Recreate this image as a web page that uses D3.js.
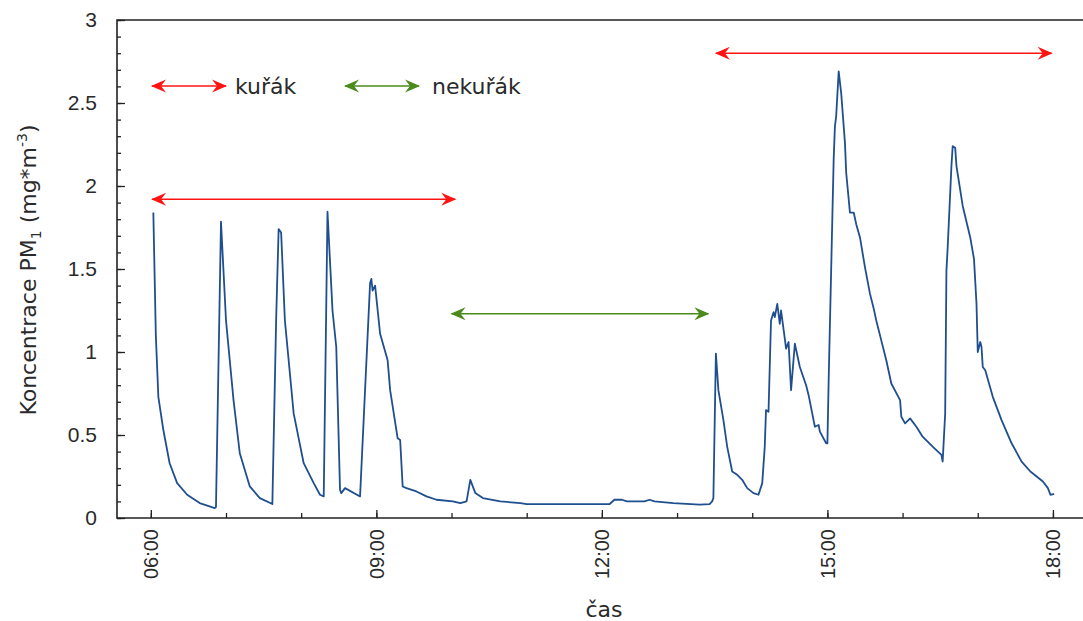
<!DOCTYPE html>
<html>
<head>
<meta charset="utf-8">
<script src="https://cdn.jsdelivr.net/npm/d3@7"></script>
<style>
body { margin: 0; background: #fff; }
svg { display: block; font-family: "DejaVu Sans", Verdana, sans-serif; }
</style>
</head>
<body>
<script>
// PM1 koncentrace - cas a hodnoty
const times = ["06:02","06:04","06:06","06:10","06:15","06:21","06:29","06:39","06:51","06:52",
  "06:56","07:00","07:06","07:11","07:19","07:27","07:37","07:40","07:42","07:44",
  "07:47","07:54","08:02","08:10","08:15","08:18","08:21","08:25","08:28","08:31",
  "08:32","08:35","08:47","08:55","08:56","08:57","08:59","09:03","09:09","09:11",
  "09:17","09:19","09:21","09:24","09:32","09:40","09:48","10:01","10:07","10:12",
  "10:15","10:19","10:25","10:39","10:55","11:00","12:06","12:10","12:16","12:20",
  "12:34","12:38","12:42","12:57","13:18","13:26","13:28","13:29","13:31","13:33",
  "13:37","13:40","13:44","13:48","13:52","13:56","14:01","14:05","14:08","14:10",
  "14:11","14:13","14:15","14:17","14:18","14:20","14:22","14:23","14:26","14:27",
  "14:29","14:31","14:34","14:38","14:43","14:45","14:50","14:53","14:54","14:59",
  "15:00","15:01","15:05","15:06","15:07","15:09","15:11","15:14","15:15","15:18",
  "15:21","15:23","15:26","15:30","15:34","15:37","15:39","15:43","15:47","15:51",
  "15:58","15:59","16:02","16:06","16:11","16:16","16:24","16:31","16:32","16:34",
  "16:35","16:36","16:39","16:40","16:42","16:43","16:48","16:54","16:57","16:59",
  "17:00","17:02","17:03","17:04","17:06","17:12","17:19","17:27","17:35","17:42",
  "17:52","17:56","17:58","18:01"];
const pm1 = [1.84,1.10,0.73,0.53,0.33,0.21,0.14,0.09,0.06,0.066,
  1.785,1.19,0.71,0.39,0.19,0.12,0.084,1.19,1.74,1.72,
  1.19,0.63,0.33,0.21,0.14,0.13,1.845,1.25,1.03,0.17,
  0.15,0.18,0.13,1.415,1.44,1.37,1.40,1.11,0.95,0.77,
  0.48,0.47,0.19,0.18,0.16,0.13,0.11,0.10,0.09,0.10,
  0.23,0.15,0.12,0.10,0.09,0.083,0.083,0.11,0.11,0.10,
  0.10,0.11,0.10,0.09,0.08,0.084,0.10,0.12,0.99,0.77,
  0.59,0.43,0.28,0.26,0.23,0.18,0.15,0.14,0.21,0.43,
  0.65,0.64,1.19,1.24,1.21,1.29,1.17,1.25,1.08,1.02,
  1.06,0.77,1.05,0.91,0.80,0.74,0.55,0.56,0.52,0.45,
  0.45,0.83,2.16,2.36,2.42,2.69,2.56,2.26,2.08,1.84,
  1.84,1.77,1.69,1.51,1.35,1.26,1.19,1.07,0.95,0.81,
  0.71,0.61,0.57,0.60,0.55,0.49,0.43,0.38,0.34,0.63,
  1.49,1.63,2.12,2.24,2.23,2.12,1.88,1.69,1.56,1.29,
  1.00,1.06,1.03,0.91,0.89,0.73,0.59,0.45,0.34,0.28,
  0.22,0.18,0.14,0.145];

// useky kurak / nekurak: od, do, vyska sipky
const periodFrom = ["06:01","10:00","13:31"];
const periodTo = ["10:03","13:25","17:59"];
const periodLevel = [1.92,1.23,2.80];
const periodType = ["kuřák","nekuřák","kuřák"];

const legendLabels = ["kuřák","nekuřák"];
const yTicks = [0,0.5,1,1.5,2,2.5,3];

const parse = d3.timeParse("%H:%M");
const data = times.map((t,i) => ({t: parse(t), v: pm1[i]}));

var width = 1083, height = 621;
var svg = d3.select("body").append("svg").attr("width",width).attr("height",height);

var x = d3.scaleTime().domain([parse("05:33"), parse("18:24")]).range([117, 1083]);
var y = d3.scaleLinear().domain([0,3]).range([518, 20]);

var colors = {"kuřák": "#ff1414", "nekuřák": "#4b8a1c"};
var textColor = "#2a2a2a";

// markery sipek
var defs = svg.append("defs");
Object.keys(colors).forEach(function(k, i){
  defs.append("marker").attr("id","arr"+i)
    .attr("viewBox","-15 -7 17 14").attr("refX",0).attr("refY",0)
    .attr("markerWidth",17).attr("markerHeight",14)
    .attr("markerUnits","userSpaceOnUse")
    .attr("orient","auto-start-reverse")
    .append("path").attr("d","M1,0 L-14,-6.5 L-9,0 L-14,6.5 Z").attr("fill",colors[k]);
});
function markerId(k){ return "url(#arr"+Object.keys(colors).indexOf(k)+")"; }

// osa Y
var yAxis = d3.axisLeft(y).tickValues(yTicks).tickSize(-8).tickPadding(20).tickFormat(d3.format("~g"));
var gy = svg.append("g").attr("transform","translate(117,0)").call(yAxis);
gy.select(".domain").remove();
gy.selectAll("text").style("font-size","21px").attr("fill",textColor);
svg.append("g").attr("transform","translate(117,0)")
  .call(d3.axisLeft(y).ticks(30).tickSize(-4).tickFormat(""))
  .select(".domain").remove();

// osa X
var xAxis = d3.axisBottom(x).ticks(d3.timeHour.every(3)).tickSize(-8).tickFormat(d3.timeFormat("%H:%M"));
var gx = svg.append("g").attr("transform","translate(0,518)").call(xAxis);
gx.select(".domain").remove();
gx.selectAll("text").attr("transform","rotate(-90)").attr("x",-11).attr("y",0).attr("dy","0.35em")
  .style("text-anchor","end").style("font-size","20px").attr("fill",textColor);
svg.append("g").attr("transform","translate(0,518)")
  .call(d3.axisBottom(x).ticks(d3.timeHour.every(1)).tickSize(-5).tickFormat(""))
  .select(".domain").remove();

svg.selectAll(".tick line").attr("stroke","#222").attr("stroke-width",1.3);

// ramecek
svg.append("path").attr("d","M1083,20 H117 V518 H1083")
  .attr("fill","none").attr("stroke","#222").attr("stroke-width",1.6);

// krivka
var line = d3.line().x(d => x(d.t)).y(d => y(d.v));
svg.append("path").datum(data).attr("d", line)
  .attr("fill","none").attr("stroke","#1f4f8f").attr("stroke-width",1.8).attr("stroke-linejoin","round");

// sipky useku
periodFrom.forEach(function(f, i){
  svg.append("line")
    .attr("x1", x(parse(f))).attr("x2", x(parse(periodTo[i])))
    .attr("y1", y(periodLevel[i])).attr("y2", y(periodLevel[i]))
    .attr("stroke", colors[periodType[i]]).attr("stroke-width",1.6)
    .attr("marker-start", markerId(periodType[i])).attr("marker-end", markerId(periodType[i]));
});

// legenda
var legend = svg.selectAll(".legends").data(legendLabels).enter().append("g")
  .attr("transform", function(d,i){ return "translate(" + (152 + i*193) + ",86)"; });
legend.append("line").attr("x1",0).attr("x2",74).attr("y1",0).attr("y2",0)
  .attr("stroke", d => colors[d]).attr("stroke-width",1.6)
  .attr("marker-start", d => markerId(d)).attr("marker-end", d => markerId(d));
legend.append("text").attr("x",(d,i) => 83 + i*4).attr("y",0).attr("dy","0.35em")
  .style("font-size","22px").attr("fill",textColor).text(d => d);

// popisky os
var yl = svg.append("text").attr("transform","translate(36,270) rotate(-90)")
  .style("text-anchor","middle").style("font-size","22px").attr("fill",textColor);
yl.append("tspan").text("Koncentrace PM");
yl.append("tspan").attr("dy",5).style("font-size","14px").text("1");
yl.append("tspan").attr("dy",-5).text(" (mg*m");
yl.append("tspan").attr("dy",-9).style("font-size","14px").text("-3");
yl.append("tspan").attr("dy",9).text(")");

svg.append("text").attr("x",604).attr("y",617).style("text-anchor","middle")
  .style("font-size","22px").attr("fill",textColor).text("čas");
</script>
</body>
</html>
